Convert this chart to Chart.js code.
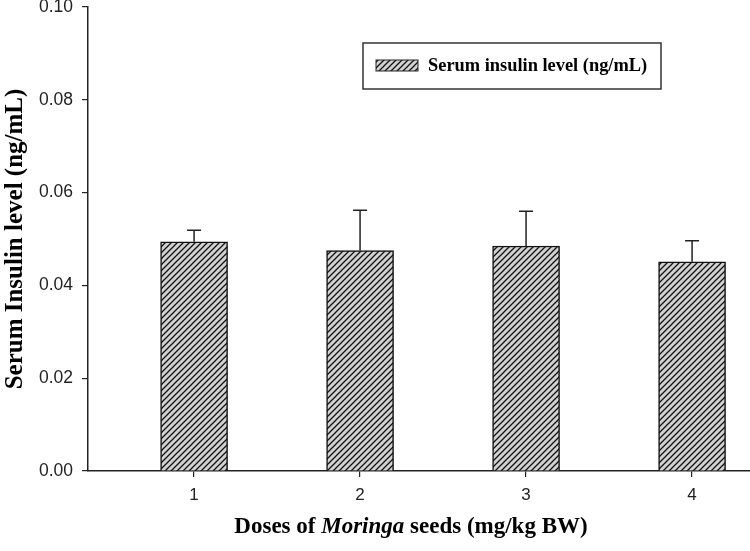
<!DOCTYPE html>
<html>
<head>
<meta charset="utf-8">
<script src="https://cdn.jsdelivr.net/npm/chart.js@4.4.0/dist/chart.umd.min.js"></script>
<style>
  html, body { margin: 0; padding: 0; background: #fff; }
  #wrap { width: 750px; height: 551px; }
</style>
</head>
<body>
<div id="wrap"><canvas id="chart"></canvas></div>
<script>
// data
const doses = [1, 2, 3, 4];
const insulin = [0.0494, 0.0475, 0.0485, 0.0451];
const insulinErr = [0.0025, 0.0087, 0.0075, 0.0045];
const yTicks = [0, 0.02, 0.04, 0.06, 0.08, 0.10];

function hatch() {
    const c = document.createElement('canvas');
    c.width = 6; c.height = 6;
    const g = c.getContext('2d');
    g.fillStyle = '#d2d2d2';
    g.fillRect(0, 0, 6, 6);
    g.strokeStyle = '#111';
    g.lineWidth = 1.3;
    g.beginPath();
    g.moveTo(-1, 7); g.lineTo(7, -1);
    g.moveTo(-4, 4); g.lineTo(4, -4);
    g.moveTo(2, 10); g.lineTo(10, 2);
    g.stroke();
    return g.createPattern(c, 'repeat');
}
const pattern = hatch();

const errorBars = {
    id: 'errorBars',
    afterDatasetsDraw(chart) {
        const ctx = chart.ctx;
        const meta = chart.getDatasetMeta(0);
        const y = chart.scales.y;
        ctx.save();
        ctx.strokeStyle = '#222';
        ctx.lineWidth = 1.5;
        meta.data.forEach((bar, i) => {
            const top = y.getPixelForValue(insulin[i] + insulinErr[i]);
            ctx.beginPath();
            ctx.moveTo(bar.x, bar.y);
            ctx.lineTo(bar.x, top);
            ctx.moveTo(bar.x - 7, top);
            ctx.lineTo(bar.x + 7, top);
            ctx.stroke();
        });
        ctx.restore();
    }
};

const extras = {
    id: 'extras',
    afterDraw(chart) {
        const ctx = chart.ctx;
        ctx.save();
        // legend box
        ctx.strokeStyle = '#333';
        ctx.lineWidth = 1.5;
        ctx.strokeRect(363, 43, 298, 46);
        ctx.fillStyle = pattern;
        ctx.fillRect(376, 60, 42, 11);
        ctx.strokeStyle = '#222';
        ctx.lineWidth = 1;
        ctx.strokeRect(376, 60, 42, 11);
        ctx.fillStyle = '#000';
        ctx.font = 'bold 18.4px "Liberation Serif"';
        ctx.textBaseline = 'middle';
        ctx.textAlign = 'left';
        ctx.fillText(chart.data.datasets[0].label, 428, 66);

        // x axis title with italic genus name
        const parts = [
            ['bold 23px "Liberation Serif"', 'Doses of '],
            ['bold italic 23px "Liberation Serif"', 'Moringa'],
            ['bold 23px "Liberation Serif"', ' seeds (mg/kg BW)']
        ];
        let total = 0;
        parts.forEach(p => { ctx.font = p[0]; total += ctx.measureText(p[1]).width; });
        let x = 411 - total / 2;
        ctx.textBaseline = 'middle';
        parts.forEach(p => {
            ctx.font = p[0];
            ctx.fillText(p[1], x, 527);
            x += ctx.measureText(p[1]).width;
        });
        ctx.restore();
    }
};

new Chart(document.getElementById('chart'), {
    type: 'bar',
    data: {
        datasets: [{
            label: 'Serum insulin level (ng/mL)',
            data: doses.map((d, i) => ({ x: d, y: insulin[i] })),
            backgroundColor: pattern,
            borderColor: '#111',
            borderWidth: 1.5,
            borderSkipped: 'bottom',
            barThickness: 67
        }]
    },
    options: {
        responsive: true,
        maintainAspectRatio: false,
        animation: false,
        layout: { padding: { top: 7, right: 0, bottom: 0, left: 0 } },
        plugins: { legend: { display: false }, tooltip: { enabled: false } },
        scales: {
            x: {
                type: 'linear',
                offset: false,
                min: 0.361,
                max: 4.349,
                afterBuildTicks: s => { s.ticks = doses.map(v => ({ value: v })); },
                afterFit: s => { s.height = 80; },
                grid: { offset: false, drawOnChartArea: false, drawTicks: true, tickLength: 6, color: '#222', lineWidth: 1.2 },
                border: { display: true, color: '#222', width: 1.5 },
                ticks: {
                    padding: 8,
                    color: '#222',
                    font: { family: '"Liberation Sans"', size: 17 },
                    callback: v => String(v)
                }
            },
            y: {
                min: 0,
                max: 0.1,
                afterBuildTicks: s => { s.ticks = yTicks.map(v => ({ value: v })); },
                afterFit: s => { s.width = 88; s.paddingTop = 0; s.paddingBottom = 0; },
                grid: { drawOnChartArea: false, drawTicks: true, tickLength: 6, color: '#222', lineWidth: 1.2 },
                border: { display: true, color: '#222', width: 1.5 },
                ticks: {
                    padding: 9,
                    color: '#222',
                    font: { family: '"Liberation Sans"', size: 17.5 },
                    callback: v => v.toFixed(2)
                },
                title: {
                    display: true,
                    text: 'Serum Insulin level (ng/mL)',
                    color: '#000',
                    font: { family: '"Liberation Serif"', size: 25, weight: 'bold' },
                    padding: { top: 1, bottom: 0 }
                }
            }
        }
    },
    plugins: [errorBars, extras]
});
</script>
</body>
</html>
